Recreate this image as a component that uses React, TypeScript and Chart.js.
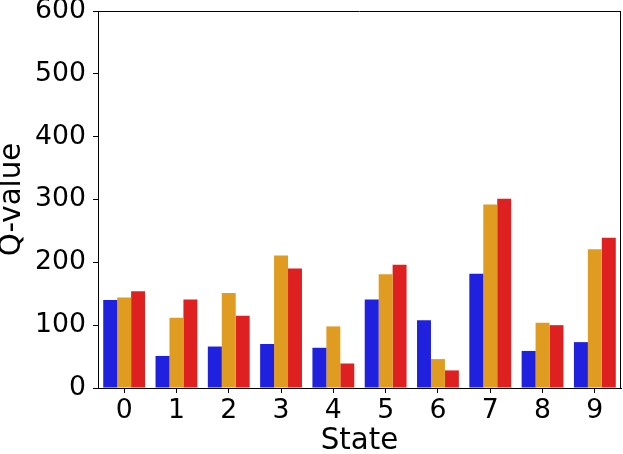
import React, { useEffect, useRef } from "react";
import { Chart, registerables } from "chart.js";

Chart.register(...registerables);

const states = ["0", "1", "2", "3", "4", "5", "6", "7", "8", "9"];
const seriesBlue = [140, 51, 66, 70, 64, 141, 108, 182, 59, 73];
const seriesOrange = [144, 112, 151, 211, 98, 181, 46, 292, 104, 221];
const seriesRed = [154, 141, 115, 190, 39, 196, 28, 301, 100, 239];
const yTicks = [0, 100, 200, 300, 400, 500, 600];

const FONT = "'DejaVu Sans', sans-serif";

const frame = {
  id: "frame",
  afterDraw(chart: any) {
    const { ctx, chartArea } = chart;
    ctx.save();
    ctx.strokeStyle = "#000";
    ctx.lineWidth = 1;
    ctx.beginPath();
    ctx.moveTo(chartArea.left, chartArea.top + 0.5);
    ctx.lineTo(chartArea.right, chartArea.top + 0.5);
    ctx.moveTo(chartArea.right - 0.5, chartArea.top);
    ctx.lineTo(chartArea.right - 0.5, chartArea.bottom);
    ctx.stroke();
    ctx.restore();
  },
};

export default function App() {
  const ref = useRef<HTMLCanvasElement | null>(null);
  useEffect(() => {
    if (!ref.current) return;
    const chart = new Chart(ref.current, {
      type: "bar",
      data: {
        labels: states,
        datasets: [
          { data: seriesBlue, backgroundColor: "#2020df" },
          { data: seriesOrange, backgroundColor: "#df9c20" },
          { data: seriesRed, backgroundColor: "#df2020" },
        ],
      },
      options: {
        animation: false,
        responsive: false,
        devicePixelRatio: 1,
        layout: { padding: { top: 11, right: 2, left: 0, bottom: 0 } },
        plugins: { legend: { display: false }, tooltip: { enabled: false } },
        datasets: { bar: { categoryPercentage: 0.8, barPercentage: 1 } },
        scales: {
          x: {
            grid: {
              offset: false,
              drawOnChartArea: false,
              drawTicks: true,
              tickLength: 5,
              color: "#000",
            },
            border: { display: true, color: "#000", width: 1 },
            ticks: {
              color: "#000",
              padding: 2,
              maxRotation: 0,
              font: { family: FONT, size: 26.7, lineHeight: 1.2 },
            },
            title: {
              display: true,
              text: "State",
              color: "#000",
              padding: { top: 0, bottom: 0.4 },
              font: { family: FONT, size: 29.3, lineHeight: 0.86 },
            },
            afterFit(s: any) {
              s.height = 66;
              s.paddingLeft = 0;
              s.paddingRight = 0;
            },
          },
          y: {
            min: 0,
            max: 600,
            afterBuildTicks(s: any) {
              s.ticks = yTicks.map((v) => ({ value: v }));
            },
            grid: {
              drawOnChartArea: false,
              drawTicks: true,
              tickLength: 5,
              color: "#000",
            },
            border: { display: true, color: "#000", width: 1 },
            ticks: {
              color: "#000",
              padding: 7,
              font: { family: FONT, size: 26.7, lineHeight: 1.2 },
            },
            title: {
              display: true,
              text: "Q-value",
              color: "#000",
              padding: 0,
              font: { family: FONT, size: 29.3, lineHeight: 0.86 },
            },
            afterFit(s: any) {
              s.width = 98;
              s.paddingTop = 0;
              s.paddingBottom = 0;
            },
          },
        },
      },
      plugins: [frame],
    });
    return () => chart.destroy();
  }, []);
  return (
    <div style={{ position: "fixed", left: 0, top: 0, width: 623, height: 454, background: "#fff" }}>
      <canvas ref={ref} width={623} height={454} style={{ width: 623, height: 454, display: "block" }} />
    </div>
  );
}
